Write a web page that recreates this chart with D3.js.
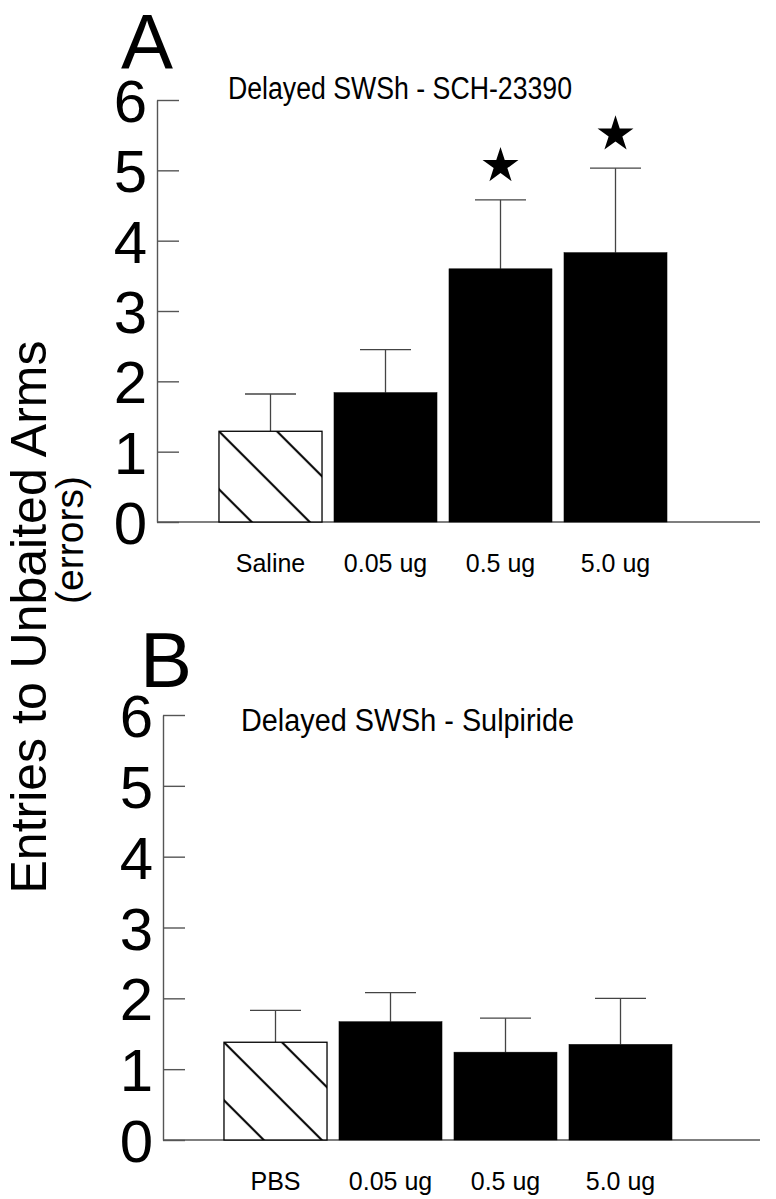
<!DOCTYPE html>
<html><head><meta charset="utf-8">
<script src="https://cdn.jsdelivr.net/npm/d3@7"></script>
<style>
body{margin:0;background:#fff}
svg{display:block}
text{font-family:"Liberation Sans",Arial,Helvetica,sans-serif;fill:#000}
</style>
</head><body>
<svg id="chart" width="776" height="1199"></svg>
<script>
// ---- data ----
const categoriesA = ["Saline", "0.05 ug", "0.5 ug", "5.0 ug"];
const meansA = [1.29, 1.84, 3.60, 3.83];
const semA = [0.53, 0.61, 0.98, 1.20];
const starsA = [false, false, true, true];

const categoriesB = ["PBS", "0.05 ug", "0.5 ug", "5.0 ug"];
const meansB = [1.38, 1.67, 1.24, 1.35];
const semB = [0.45, 0.41, 0.48, 0.65];
const starsB = [false, false, false, false];

const controlIndex = 0;
const yTicks = [0, 1, 2, 3, 4, 5, 6];
const titles = ["Delayed SWSh - SCH-23390", "Delayed SWSh - Sulpiride"];
const panelLetters = ["A", "B"];
const yLabelLines = ["Entries to Unbaited Arms", "(errors)"];

// ---- layout ----
const svg = d3.select("#chart");
svg.append("rect").attr("width", 776).attr("height", 1199).attr("fill", "#fff");
const defs = svg.append("defs");

const panels = [
  {cats: categoriesA, means: meansA, sem: semA, stars: starsA, title: titles[0], letter: panelLetters[0],
   axisX: 157, yTop: 100, yBase: 522, xEnd: 760, band: [213, 673],
   titleX: 228, titleY: 99, titleW: 344, letterX: 121, letterY: 69},
  {cats: categoriesB, means: meansB, sem: semB, stars: starsB, title: titles[1], letter: panelLetters[1],
   axisX: 163, yTop: 715, yBase: 1140, xEnd: 760, band: [218, 678],
   titleX: 241, titleY: 731, titleW: 333, letterX: 140, letterY: 687}
];

const axisColor = "#555";

panels.forEach((p, pi) => {
  const y = d3.scaleLinear().domain([0, 6]).range([p.yBase, p.yTop]);
  const x = d3.scaleBand().domain(p.cats).range(p.band).paddingInner(0.104).paddingOuter(0.052);
  const g = svg.append("g");

  // panel letter
  g.append("text").attr("x", p.letterX).attr("y", p.letterY)
    .attr("font-size", 78).text(p.letter);

  // title
  g.append("text").attr("x", p.titleX).attr("y", p.titleY)
    .attr("font-size", 31).attr("textLength", p.titleW).attr("lengthAdjust", "spacingAndGlyphs")
    .text(p.title);

  // y axis
  const ax = g.append("g").attr("transform", `translate(${p.axisX},0)`)
    .call(d3.axisLeft(y).tickValues(yTicks).tickFormat(d3.format("d"))
      .tickSize(-22).tickSizeOuter(0).tickPadding(10));
  ax.select(".domain").attr("stroke", axisColor).attr("stroke-width", 1.4);
  ax.selectAll(".tick line").attr("stroke", axisColor).attr("stroke-width", 1.4);
  ax.selectAll(".tick text").attr("font-size", 60).attr("font-family", '"Liberation Sans",Arial,sans-serif')
    .attr("fill", "#000").attr("dy", "0.36em");

  // baseline
  g.append("line").attr("x1", p.axisX).attr("x2", p.xEnd)
    .attr("y1", y(0)).attr("y2", y(0)).attr("stroke", axisColor).attr("stroke-width", 1.4);

  // hatch pattern for control bar
  const bx = x(p.cats[controlIndex]);
  const by = y(p.means[controlIndex]);
  const pid = "hatch" + pi;
  const pat = defs.append("pattern").attr("id", pid).attr("patternUnits", "userSpaceOnUse")
    .attr("width", 58).attr("height", 58)
    .attr("patternTransform", `translate(${bx},${by})`);
  pat.append("rect").attr("width", 58).attr("height", 58).attr("fill", "#fff");
  pat.append("path").attr("d", "M-2,-2L60,60M54,-4L62,4M-4,54L4,62")
    .attr("stroke", "#000").attr("stroke-width", 2);

  const data = p.cats.map((c, i) => ({c, m: p.means[i], e: p.sem[i], star: p.stars[i], i}));

  // error bars (upper only)
  const eb = g.append("g").attr("stroke", "#444").attr("stroke-width", 1.3);
  eb.selectAll("line.v").data(data).join("line")
    .attr("x1", d => x(d.c) + x.bandwidth() / 2).attr("x2", d => x(d.c) + x.bandwidth() / 2)
    .attr("y1", d => y(d.m)).attr("y2", d => y(d.m + d.e));
  eb.selectAll("line.cap").data(data).join("line")
    .attr("x1", d => x(d.c) + x.bandwidth() / 2 - 25.5).attr("x2", d => x(d.c) + x.bandwidth() / 2 + 25.5)
    .attr("y1", d => y(d.m + d.e)).attr("y2", d => y(d.m + d.e));

  // bars
  g.selectAll("rect.bar").data(data).join("rect").attr("class", "bar")
    .attr("x", d => x(d.c)).attr("width", x.bandwidth())
    .attr("y", d => y(d.m)).attr("height", d => y(0) - y(d.m))
    .attr("fill", d => d.i === controlIndex ? `url(#${pid})` : "#000")
    .attr("stroke", "#000").attr("stroke-width", d => d.i === controlIndex ? 1.3 : 0.5);

  // significance stars
  g.selectAll("path.star").data(data.filter(d => d.star)).join("path")
    .attr("transform", d => `translate(${x(d.c) + x.bandwidth() / 2},${y(d.m + d.e) - 34})`)
    .attr("d", d3.symbol(d3.symbolStar).size(400)).attr("fill", "#000");

  // category labels
  g.selectAll("text.cat").data(data).join("text")
    .attr("x", d => x(d.c) + x.bandwidth() / 2).attr("y", p.yBase + 50)
    .attr("text-anchor", "middle").attr("font-size", 25).text(d => d.c);
});

// shared y label
const yl = svg.append("g");
yl.append("text").attr("transform", "translate(46,617) rotate(-90)")
  .attr("text-anchor", "middle").attr("font-size", 50).text(yLabelLines[0]);
yl.append("text").attr("transform", "translate(83,540) rotate(-90)")
  .attr("text-anchor", "middle").attr("font-size", 39).text(yLabelLines[1]);
</script>
</body></html>
